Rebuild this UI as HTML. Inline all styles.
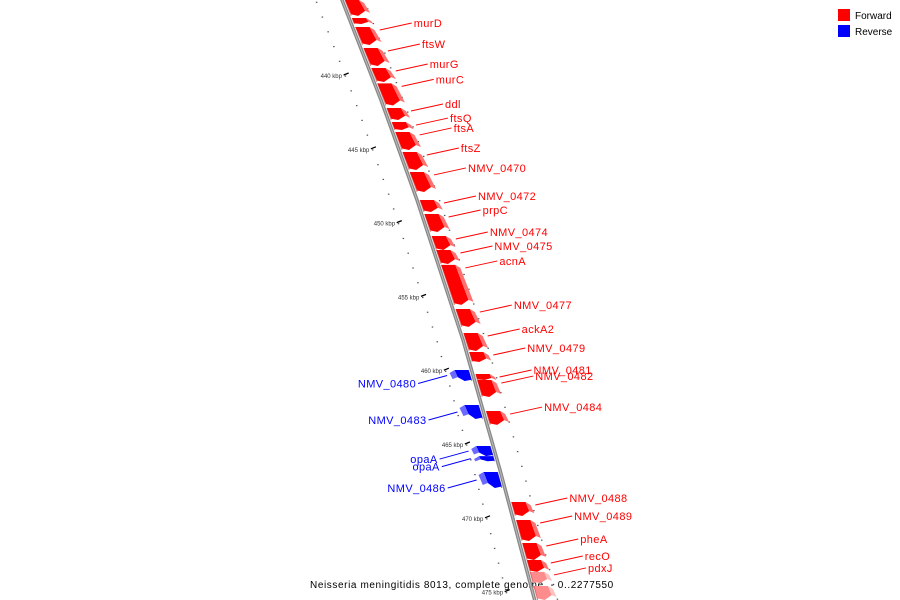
<!DOCTYPE html>
<html><head><meta charset="utf-8"><style>
html,body{margin:0;padding:0;background:#fff;}
svg{display:block;font-family:"Liberation Sans","DejaVu Sans",sans-serif;}
</style></head><body>
<svg id="map" width="900" height="600" viewBox="0 0 900 600" xmlns="http://www.w3.org/2000/svg">
<g>
<rect x="838" y="9" width="12" height="12" fill="#ff0000"/>
<text x="855" y="19" font-size="10" fill="#000">Forward</text>
<rect x="838" y="25" width="12" height="12" fill="#0000ff"/>
<text x="855" y="35" font-size="10" fill="#000">Reverse</text>
</g>
<text x="310" y="588" font-size="10" letter-spacing="0.6" fill="#000">Neisseria meningitidis 8013, complete genome. - 0..2277550</text>
</svg>
<script>
// data (kbp)
const geneStart = [434.85,436.07,436.68,438.1,439.46,440.5,442.17,443.12,443.79,445.15,446.5,448.4,449.35,450.84,451.79,452.8,455.79,457.41,458.7,460.19,460.6,462.7,468.86,470.08,471.64,472.79,473.6,474.55, 459.92,462.29,465.07,465.75,466.83];
const geneEnd   = [435.93,436.48,437.9,439.32,440.41,442.0,442.98,443.66,445.01,446.37,447.86,449.21,450.57,451.79,452.74,455.51,457.0,458.63,459.38,460.6,461.75,463.64,469.81,471.5,472.79,473.6,474.35,475.5, 460.66,463.24,465.75,466.1,467.91];
const geneStrand= [1,1,1,1,1,1,1,1,1,1,1,1,1,1,1,1,1,1,1,1,1,1,1,1,1,1,1,1, -1,-1,-1,-1,-1];
const geneName  = ["","","murD","ftsW","murG","murC","ddl","ftsQ","ftsA","ftsZ","NMV_0470","NMV_0472","prpC","NMV_0474","NMV_0475","acnA","NMV_0477","ackA2","NMV_0479","NMV_0481","NMV_0482","NMV_0484","NMV_0488","NMV_0489","pheA","recO","pdxJ","", "NMV_0480","NMV_0483","opaA","opaA","NMV_0486"];
const genePale  = [0,0,0,0,0,0,0,0,0,0,0,0,0,0,0,0,0,0,0,0,0,0,0,0,0,0,1,1, 0,0,0,0,0];
const tickKbp = [440,445,450,455,460,465,470,475];
const tickLabels = ["440 kbp","445 kbp","450 kbp","455 kbp","460 kbp","465 kbp","470 kbp","475 kbp"];

// axis functions
function yOf(k){ return 76 + (k-440)*14.76; }
const bb=[[-20,334],[0,342],[100,381],[200,417],[340,463],[470,500],[620,540]];
function xOf(y){ for(let i=0;i<bb.length-1;i++){ if(y<=bb[i+1][0]){const a=bb[i],b=bb[i+1];return a[1]+(b[1]-a[1])*(y-a[0])/(b[0]-a[0]);}} return 540; }

const svg=document.getElementById('map');
const NS='http://www.w3.org/2000/svg';
function mk(tag,attrs){const e=document.createElementNS(NS,tag);for(const k in attrs)e.setAttribute(k,attrs[k]);return e;}

// ticks
const tg=mk('g',{});


svg.insertBefore(tg,svg.firstChild);
for(let k=434;k<=476;k++){
  const y=yOf(k), x=xOf(y);
  const d=mk('rect',{x:x-27,y:y-0.5,width:1.5,height:1.2,fill:'#555'});
  
  
  tg.appendChild(d);
  const d2=mk('rect',{x:x+24,y:y+6,width:1.5,height:1.2,fill:'#555'});
  
  
  tg.appendChild(d2);
}
tickKbp.forEach((k,i)=>{
  const y=yOf(k), x=xOf(y);
  const l=mk('line',{x1:x-28,y1:y-1,x2:x-23,y2:y-3,stroke:'#000','stroke-width':1.3});
  
  
  tg.appendChild(l);
  const t=mk('text',{x:x-51,y:y+2,'font-size':6,fill:'#333'});
  t.textContent=tickLabels[i];
  
  
  tg.appendChild(t);
});

// backbone
let pts=[];for(let y=-5;y<=605;y+=5)pts.push(xOf(y)+','+y);
const bl=mk('polyline',{points:pts.join(' '),fill:'none',stroke:'#888','stroke-width':3.5});


svg.appendChild(bl);
const bl2=mk('polyline',{points:pts.join(' '),fill:'none',stroke:'#bbb','stroke-width':1});


svg.appendChild(bl2);

// genes
for(let i=0;i<geneStart.length;i++){
  const y1=yOf(geneStart[i]), y2=yOf(geneEnd[i]);
  const s=geneStrand[i];
  const xa=xOf(y1), xb=xOf(y2);
  const g=mk('g',{});
  
  
  const main = s>0 ? (genePale[i]?'#ff8c8c':'#ff0000') : '#0000ff';
  const side = s>0 ? (genePale[i]?'#ffc0c0':'#ff7070') : '#6a6aff';
  const shade= s>0 ? '#c00000' : '#0000b0';
  let inner,outer;
  if(s>0){inner=3;outer=17;}else{inner=-3;outer=-17;}
  const h=y2-y1, tip=Math.min(5,h*0.35);
  const face=mk('polygon',{points:[
    (xa+inner)+','+y1,(xa+outer)+','+y1,(xb+outer)+','+(y2-tip),(xb+(inner+outer)/2)+','+y2,(xb+inner)+','+(y2-tip*0.3)
  ].join(' '),fill:main});
  g.appendChild(face);
  const sd=s>0?1:-1;
  const sidep=mk('polygon',{points:[
    (xa+outer)+','+y1,(xa+outer+5*sd)+','+(y1+3),(xb+outer+5*sd)+','+(y2-tip+2),(xb+outer)+','+(y2-tip)
  ].join(' '),fill:side});
  g.appendChild(sidep);
  const edge=mk('line',{x1:xa+inner,y1:y1,x2:xb+inner,y2:y2,stroke:shade,'stroke-width':1,opacity:0.5});
  g.appendChild(edge);
  svg.appendChild(g);
  if(geneName[i]){
    const ly = s>0 ? y1+3 : (y1+y2)/2;
    const lx = xOf(ly) + (s>0?26:-26);
    const ex = lx + (s>0?32:-29), ey = ly + (s>0?-7:8);
    const col = s>0?'#ff0000':'#0000ff';
    const line=mk('line',{x1:lx,y1:ly,x2:ex,y2:ey,stroke:col,'stroke-width':1});
    
    
    svg.appendChild(line);
    const t=mk('text',{x:ex+(s>0?2:-2),y:ey+4,'font-size':11,fill:col,'letter-spacing':'0.4','text-anchor':s>0?'start':'end'});
    t.textContent=geneName[i];
    
    
    svg.appendChild(t);
  }
}
</script>
</body></html>
